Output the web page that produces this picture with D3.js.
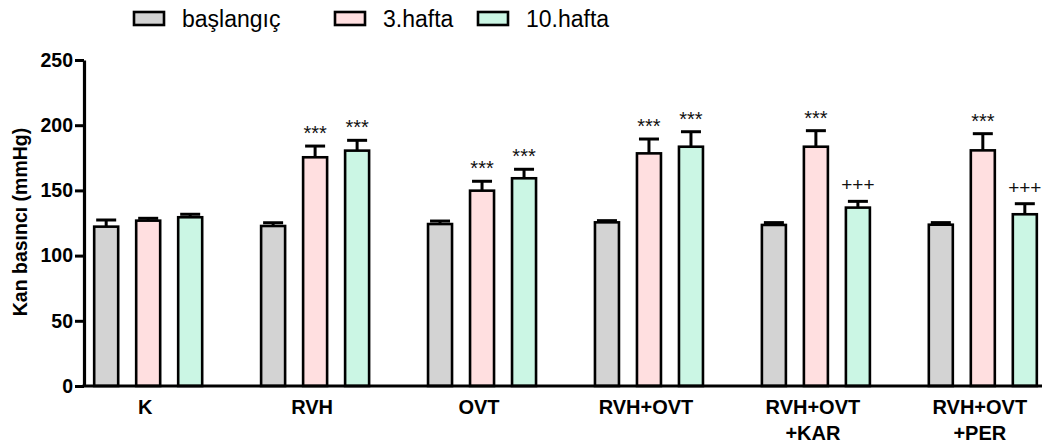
<!DOCTYPE html>
<html><head><meta charset="utf-8">
<script src="https://cdn.jsdelivr.net/npm/d3@7"></script>
<style>
html,body{margin:0;padding:0;background:#fff;}
svg{display:block;font-family:"Liberation Sans",Arial,sans-serif;}
</style></head>
<body><svg id="chart" width="1046" height="446"></svg>
<script>
const categories = ["K", "RVH", "OVT", "RVH+OVT", "RVH+OVT\n+KAR", "RVH+OVT\n+PER"];
const seriesNames = ["başlangıç", "3.hafta", "10.hafta"];
const seriesColors = ["#d3d3d3", "#ffdfe0", "#cbf6e4"];
const baslangic = [122.2, 122.7, 124.2, 125.5, 123.5, 123.7];
const hafta3 = [126.8, 175.4, 149.8, 178.4, 183.5, 180.7];
const hafta10 = [129.4, 180.5, 159.3, 183.5, 136.8, 131.7];
const errBaslangic = [5.1, 2.5, 2.3, 1.3, 1.8, 1.6];
const errHafta3 = [1.8, 8.6, 7.2, 11.0, 12.3, 12.8];
const errHafta10 = [2.3, 7.9, 6.9, 11.5, 4.8, 8.1];
const markBaslangic = ["", "", "", "", "", ""];
const markHafta3 = ["", "***", "***", "***", "***", "***"];
const markHafta10 = ["", "***", "***", "***", "+++", "+++"];
const yTicks = [0, 50, 100, 150, 200, 250];
const yTitle = "Kan basıncı (mmHg)";

const values = [baslangic, hafta3, hafta10];
const errs = [errBaslangic, errHafta3, errHafta10];
const marks = [markBaslangic, markHafta3, markHafta10];

const svg = d3.select("#chart");
const y = d3.scaleLinear().domain([0, 250]).range([386, 60]);
const x0 = d3.scaleBand().domain(categories).range([85, 1046]).paddingInner(0.353).paddingOuter(0.055);
const x1 = d3.scaleBand().domain(d3.range(3)).range([0, x0.bandwidth()]).paddingInner(0.4286).paddingOuter(0);

const rows = [];
categories.forEach((c, i) => {
  for (let s = 0; s < 3; s++) rows.push({c, s, v: values[s][i], e: errs[s][i], m: marks[s][i]});
});

const g = svg.append("g");
const eb = g.selectAll(".err").data(rows).join("g").attr("class", "err");
eb.append("line")
  .attr("x1", d => x0(d.c) + x1(d.s) + x1.bandwidth() / 2)
  .attr("x2", d => x0(d.c) + x1(d.s) + x1.bandwidth() / 2)
  .attr("y1", d => y(d.v)).attr("y2", d => y(d.v + d.e))
  .attr("stroke", "#000").attr("stroke-width", 3);
eb.append("line")
  .attr("x1", d => x0(d.c) + x1(d.s) + x1.bandwidth() / 2 - 10)
  .attr("x2", d => x0(d.c) + x1(d.s) + x1.bandwidth() / 2 + 10)
  .attr("y1", d => y(d.v + d.e)).attr("y2", d => y(d.v + d.e))
  .attr("stroke", "#000").attr("stroke-width", 3);

g.selectAll(".bar").data(rows).join("rect").attr("class", "bar")
  .attr("x", d => x0(d.c) + x1(d.s))
  .attr("width", x1.bandwidth())
  .attr("y", d => y(d.v))
  .attr("height", d => y(0) - y(d.v))
  .attr("fill", d => seriesColors[d.s])
  .attr("stroke", "#000").attr("stroke-width", 2.6);

g.selectAll(".mark").data(rows.filter(d => d.m)).join("text").attr("class", "mark")
  .attr("x", d => x0(d.c) + x1(d.s) + x1.bandwidth() / 2)
  .attr("y", d => y(d.v + d.e) - (d.m === "+++" ? 10 : 6))
  .attr("text-anchor", "middle")
  .attr("font-size", d => d.m === "+++" ? 19 : 20)
  .attr("fill", "#111")
  .text(d => d.m);

const ya = svg.append("g").attr("transform", "translate(84,0)")
  .call(d3.axisLeft(y).tickValues(yTicks).tickSize(9).tickPadding(2).tickSizeOuter(0));
ya.select(".domain").attr("stroke-width", 3.2).attr("stroke", "#000");
ya.selectAll(".tick line").attr("stroke-width", 3).attr("stroke", "#000");
ya.selectAll(".tick text").attr("font-size", 19.5).attr("font-weight", "bold")
  .attr("font-family", "'Liberation Sans',Arial,sans-serif").attr("fill", "#000");

const xa = svg.append("g").attr("transform", `translate(0,${y(0)})`)
  .call(d3.axisBottom(x0).tickSize(0).tickPadding(0).tickSizeOuter(0));
xa.select(".domain").attr("stroke-width", 3.2).attr("stroke", "#000")
  .attr("d", `M82.5,0H1042`);
xa.selectAll(".tick text").each(function(d) {
  const t = d3.select(this);
  const lines = d.split("\n");
  t.text(null).attr("y", 0).attr("dy", null)
    .attr("font-size", 20).attr("font-weight", "bold")
    .attr("font-family", "'Liberation Sans',Arial,sans-serif").attr("fill", "#000")
    .attr("transform", "translate(-3,0)");
  lines.forEach((l, i) => t.append("tspan").attr("x", 0).attr("y", 28 + i * 26).text(l));
});

svg.append("text")
  .attr("transform", "translate(27,222) rotate(-90)")
  .attr("text-anchor", "middle")
  .attr("font-size", 19.5).attr("font-weight", "bold")
  .text(yTitle);

const legendX = [134, 335, 478];
const lg = svg.append("g").selectAll("g").data(seriesNames).join("g")
  .attr("transform", (d, i) => `translate(${legendX[i]},0)`);
lg.append("rect").attr("x", 0).attr("y", 12).attr("width", 30).attr("height", 13)
  .attr("fill", (d, i) => seriesColors[i]).attr("stroke", "#000").attr("stroke-width", 2.6);
lg.append("text").attr("x", 48).attr("y", 27).attr("font-size", 23).attr("fill", "#000").text(d => d);
</script></body></html>
